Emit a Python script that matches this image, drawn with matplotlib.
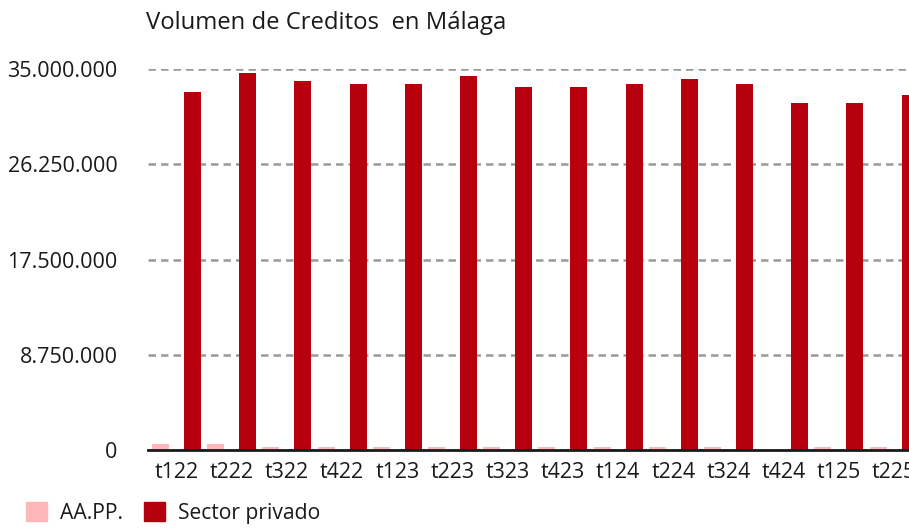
import matplotlib
matplotlib.use("Agg")
from matplotlib import pyplot as plt
from matplotlib.patches import Patch
from matplotlib.ticker import FuncFormatter

plt.rcParams['font.family'] = ['Open Sans', 'DejaVu Sans']

periodos = ['t122', 't222', 't322', 't422', 't123', 't223', 't323',
            't423', 't124', 't224', 't324', 't424', 't125', 't225']
aapp = [550000, 550000, 280000, 280000, 280000, 280000, 280000,
        280000, 280000, 280000, 280000, 0, 280000, 280000]
sector_privado = [32900000, 34650000, 33900000, 33620000, 33620000, 34380000, 33350000,
                  33350000, 33620000, 34100000, 33620000, 31900000, 31900000, 32600000]
yticks = [0, 8750000, 17500000, 26250000, 35000000]

c_aapp = '#ffb7b9'
c_priv = '#b7000e'

fig = plt.figure(figsize=(9.09, 5.32), dpi=100)
ax = fig.add_axes([148/909, 1-450/532, 1-148/909, (450-69)/532])

x = list(range(len(periodos)))
w = 0.31
off = 0.29
ax.bar([i - off for i in x], aapp, width=w, color=c_aapp, zorder=3)
ax.bar([i + off for i in x], sector_privado, width=w, color=c_priv, zorder=3)

ax.set_xlim(-0.516, 13.27)
ax.set_ylim(0, 35000000)
ax.set_xticks(x)
ax.set_xticklabels(periodos)
ax.set_yticks(yticks)
ax.yaxis.set_major_formatter(FuncFormatter(lambda v, p: '{:,.0f}'.format(v).replace(',', '.')))
ax.tick_params(axis='both', length=0, labelsize=15.5, colors='#1a1a1a')
ax.tick_params(axis='x', pad=9)
ax.tick_params(axis='y', pad=22)

for s in ['top', 'right', 'left']:
    ax.spines[s].set_visible(False)
ax.spines['bottom'].set_linewidth(2)
ax.spines['bottom'].set_color('#1a1a1a')
ax.spines['bottom'].set_zorder(4)

ax.yaxis.grid(True, color='#999999', linestyle=(0, (3, 2)), linewidth=1.8, zorder=0)
ax.set_axisbelow(True)

fig.text(146/909, 1-23/532, 'Volumen de Creditos  en Málaga', fontsize=17.2,
         color='#1a1a1a', va='center', ha='left')

handles = [Patch(color=c_aapp, label='AA.PP.'), Patch(color=c_priv, label='Sector privado')]
fig.legend(handles=handles, loc='lower left', bbox_to_anchor=(0.008, -0.02), ncol=2,
           frameon=False, fontsize=15.2, handlelength=1.0, handleheight=1.0,
           handletextpad=0.6, columnspacing=1.0, labelcolor='#1a1a1a')

fig.savefig('out.png', dpi=100)
